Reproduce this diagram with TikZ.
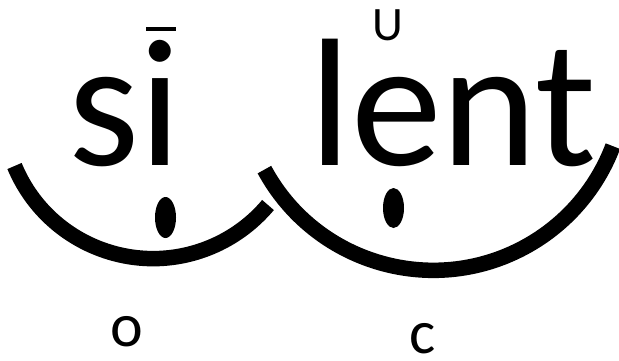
\documentclass[tikz,border=0pt]{standalone}
\usepackage{fontspec}
\setmainfont{Carlito}
\tikzset{
  bigword/.style={inner sep=0pt, anchor=base, font=\fontsize{182}{200}\selectfont},
  smalllabel/.style={inner sep=0pt, anchor=base, text depth=0pt, font=\fontsize{62}{70}\selectfont},
  accent/.style={inner sep=0pt, anchor=base, text depth=0pt, font=\fontsize{48}{56}\selectfont},
  arcline/.style={line width=15.5pt, line cap=butt},
  dotmark/.style={fill=black}
}
\begin{document}
\begin{tikzpicture}[x=1pt,y=1pt]
\useasboundingbox (0,0) rectangle (619,360);
% words
\node[bigword] (si) at (125,195) {si};
\node[bigword] (lent) at (453,195) {lent};
% accents
\draw[line width=3.5pt] (146,331) -- (175.7,331);
\node[accent] (breve) at (387.5,319.3) {U};
% arcs
\draw[arcline] (153.1,251.4) ++(202.5:150) arc[start angle=202.5, end angle=320, radius=150];
\draw[arcline] (433.3,281.7) ++(208.4:192) arc[start angle=208.4, end angle=339.3, radius=192];
% dots
\fill[dotmark] (165.5,142.5) ellipse[x radius=10.5, y radius=20.5];
\fill[dotmark] (393.5,152) ellipse[x radius=10.5, y radius=20];
% labels
\node[smalllabel] (o) at (126.7,14) {o};
\node[smalllabel] (c) at (422.5,6.5) {c};
\end{tikzpicture}
\end{document}
